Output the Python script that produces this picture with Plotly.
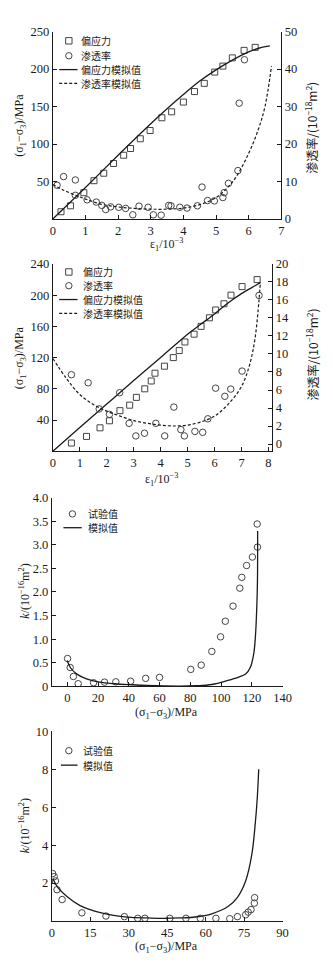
import plotly.graph_objects as go

# ---------------- Panel (a): strain vs deviatoric stress / permeability ----------------
a_strain_q = [0.25, 0.54, 0.95, 1.26, 1.56, 1.86, 2.17, 2.38, 2.68, 2.98, 3.34, 3.64, 4.0, 4.34, 4.64,
              4.96, 5.21, 5.5, 5.86, 6.2]
a_stress = [9.6, 17.5, 35, 51, 61, 74, 85, 94, 107, 118, 135, 143, 156, 170, 181, 196, 204, 215, 225, 229]

a_strain_k = [0.13, 0.33, 0.69, 0.69, 1.05, 1.33, 1.5, 1.62, 1.77, 2.02, 2.23, 2.45, 2.64, 2.92, 3.08, 3.32,
              3.55, 3.62, 3.89, 4.11, 4.43, 4.57, 4.74, 4.95, 5.21, 5.25, 5.38, 5.67, 5.71, 5.87]
a_perm = [9.0, 11.3, 10.4, 6.3, 5.1, 4.5, 3.6, 2.5, 3.2, 3.1, 2.8, 1.1, 3.4, 3.1, 1.1, 1.0,
          3.6, 3.5, 3.1, 2.9, 3.5, 8.5, 4.9, 4.8, 5.7, 7.0, 9.5, 12.9, 30.9, 42.5]

a_fit_q_x = [0, 1, 2, 3, 3.5, 4, 4.5, 5, 5.5, 6, 6.4, 6.65]
a_fit_q_y = [0, 42, 85, 127, 147, 166, 184, 199, 212, 223, 229, 231]

a_fit_k_x = [0, 0.3, 0.7, 1, 1.5, 2, 2.5, 3, 3.5, 4, 4.5, 5, 5.3, 5.6, 6, 6.3, 6.5, 6.7]
a_fit_k_y = [9.2, 7.8, 6.3, 5.3, 3.9, 3.2, 2.8, 2.6, 2.6, 2.9, 3.8, 5.7, 7.9, 11, 17.5, 24, 30, 40.8]

# ---------------- Panel (b) ----------------
b_strain_q = [0.69, 1.25, 1.75, 2.1, 2.49, 2.85, 3.1, 3.41, 3.65, 3.79, 4.14, 4.47, 4.69, 4.9, 5.24,
              5.5, 5.81, 6.04, 6.35, 6.61, 7.02, 7.58]
b_stress = [10.5, 19, 30, 39, 52, 59, 69, 80, 90, 100, 109, 120, 129, 140, 150, 160, 171, 181, 189,
            200, 211, 220]

b_strain_k = [0.69, 1.31, 2.48, 1.72, 2.1, 2.83, 3.08, 3.4, 3.82, 4.15, 4.49, 4.75, 4.88, 5.27, 5.56,
              5.75, 6.04, 6.38, 6.6, 7.02, 7.65]
b_perm = [7.7, 6.8, 5.7, 3.9, 3.3, 2.3, 0.9, 1.2, 2.3, 0.9, 4.1, 1.6, 0.9, 1.4, 1.3, 2.8, 6.2, 5.3,
          6.1, 8.1, 16.5]

b_fit_q_x = [0, 1, 2, 3, 4, 5, 5.5, 6, 6.5, 7, 7.5, 7.7]
b_fit_q_y = [0, 30.3, 60.5, 90.5, 120, 150, 163, 176, 190, 202, 212, 216]

b_fit_k_x = [0, 0.5, 1, 1.5, 2, 2.5, 3, 3.5, 4, 4.5, 5, 5.5, 6, 6.5, 7, 7.3, 7.5, 7.65, 7.7]
b_fit_k_y = [9.5, 7.3, 5.5, 4.4, 3.65, 3.1, 2.6, 2.3, 2.1, 2.0, 2.1, 2.45, 3.1, 4.4, 6.4, 8.8, 11.7,
             16, 18.0]

# ---------------- Panel (c): permeability vs deviatoric stress ----------------
c_stress = [0.2, 1.9, 4.0, 7.1, 17.1, 24.2, 31.6, 41.2, 51.0, 60.0, 80.3, 87.1, 94.0, 99.7, 102.8,
            107.8, 112.2, 113.5, 116.6, 120.4, 123.7, 123.5]
c_perm = [0.59, 0.40, 0.21, 0.056, 0.077, 0.09, 0.097, 0.11, 0.17, 0.19, 0.36, 0.45, 0.74, 1.05, 1.38,
          1.70, 2.08, 2.31, 2.56, 2.74, 2.95, 3.44]

c_fit_x = [0, 2, 6.3, 12.5, 21, 31, 42, 52, 63, 73, 84, 94, 104.5, 111, 116, 119, 121.2, 122.3,
           123.3, 123.7, 123.8]
c_fit_y = [0.55, 0.40, 0.26, 0.16, 0.09, 0.056, 0.035, 0.02, 0.01, 0.007, 0.014, 0.04, 0.125, 0.19,
           0.26, 0.40, 0.68, 1.03, 1.73, 2.28, 3.29]

# ---------------- Panel (d) ----------------
d_stress = [0.3, 0.9, 1.4, 2.0, 4.0, 11.7, 21.1, 28.3, 33.5, 36.3, 46.0, 52.3, 57.9, 64.0, 69.4, 72.4,
            75.6, 76.6, 77.7, 79.0, 79.1]
d_perm = [2.5, 2.34, 2.11, 1.65, 1.13, 0.43, 0.26, 0.23, 0.14, 0.14, 0.14, 0.14, 0.14, 0.14, 0.12,
          0.23, 0.33, 0.47, 0.6, 0.94, 1.23]

d_fit_x = [0.5, 2.3, 6, 11, 16, 21, 26, 31, 37.3, 43.6, 49.9, 56, 62.4, 68.7, 72.4, 75.6, 78, 79.3,
           80.2, 80.7]
d_fit_y = [2.2, 1.77, 1.28, 0.81, 0.55, 0.38, 0.26, 0.19, 0.16, 0.14, 0.16, 0.21, 0.38, 0.76, 1.25,
           2.11, 3.5, 5.06, 6.62, 8.0]

W, H = 333, 974
INK = "#1a1a1a"
MK = "#444444"
SERIF = "Liberation Serif, Times New Roman, serif"
CJK = "Noto Sans CJK SC, sans-serif"


def px_x(p):
    return p / W


def px_y(p):
    return 1 - p / H


sq = dict(symbol="square-open", size=6, color=MK, line=dict(width=1, color=MK))
ci = dict(symbol="circle-open", size=6.5, color=MK, line=dict(width=1, color=MK))
solid = dict(color=INK, width=1.3)
dashed = dict(color=INK, width=1.2, dash="3px,2px")

fig = go.Figure()


def add(x, y, xa, ya, name, marker=None, line=None):
    if marker is not None:
        fig.add_trace(go.Scatter(x=x, y=y, mode="markers", marker=marker, name=name,
                                 xaxis=xa, yaxis=ya, showlegend=False))
    else:
        fig.add_trace(go.Scatter(x=x, y=y, mode="lines", line=dict(shape="spline", **line),
                                 name=name, xaxis=xa, yaxis=ya, showlegend=False))


# panel (a)
add(a_strain_q, a_stress, "x", "y", "偏应力", marker=sq)
add(a_strain_k, a_perm, "x", "y2", "渗透率", marker=ci)
add(a_fit_q_x, a_fit_q_y, "x", "y", "偏应力模拟值", line=solid)
add(a_fit_k_x, a_fit_k_y, "x", "y2", "渗透率模拟值", line=dashed)
# panel (b)
add(b_strain_q, b_stress, "x2", "y3", "偏应力", marker=sq)
add(b_strain_k, b_perm, "x2", "y4", "渗透率", marker=ci)
add(b_fit_q_x, b_fit_q_y, "x2", "y3", "偏应力模拟值", line=solid)
add(b_fit_k_x, b_fit_k_y, "x2", "y4", "渗透率模拟值", line=dashed)
# panel (c)
add(c_stress, c_perm, "x3", "y5", "试验值", marker=ci)
add(c_fit_x, c_fit_y, "x3", "y5", "模拟值", line=solid)
# panel (d)
add(d_stress, d_perm, "x4", "y6", "试验值", marker=ci)
add(d_fit_x, d_fit_y, "x4", "y6", "模拟值", line=solid)

TICK_SIZE = 12.5
axis_style = dict(showline=True, linecolor=INK, linewidth=1, ticks="inside", ticklen=4,
                  tickcolor=INK, tickwidth=1, showgrid=False, zeroline=False,
                  tickfont=dict(family=SERIF, size=TICK_SIZE, color=INK))

fig.update_layout(
    width=W, height=H, margin=dict(l=0, r=0, t=0, b=0),
    paper_bgcolor="white", plot_bgcolor="white", showlegend=False,
    font=dict(family=CJK, color=INK),
    # panel (a)
    xaxis=dict(domain=[px_x(51.7), px_x(288.7)], range=[0, 7], tickvals=list(range(0, 8)),
               anchor="y", **axis_style),
    yaxis=dict(domain=[px_y(215), px_y(25)], range=[0, 250], tickvals=[50, 100, 150, 200, 250],
               anchor="x", **axis_style),
    yaxis2=dict(range=[0, 50], tickvals=[0, 10, 20, 30, 40, 50], overlaying="y", side="right",
                anchor="x", **axis_style),
    # panel (b)
    xaxis2=dict(domain=[px_x(51.7), px_x(279.3)], range=[0, 8.14], tickvals=list(range(0, 9)),
                anchor="y3", **axis_style),
    yaxis3=dict(domain=[px_y(450.7), px_y(260.7)], range=[0, 240],
                tickvals=[40, 80, 120, 160, 200, 240], anchor="x2", **axis_style),
    yaxis4=dict(range=[-0.8, 20], tickvals=list(range(0, 21, 2)), overlaying="y3", side="right",
                anchor="x2", **axis_style),
    # panel (c)
    xaxis3=dict(domain=[px_x(50.7), px_x(290)], range=[-10, 140], tickvals=list(range(0, 141, 20)),
                anchor="y5", **axis_style),
    yaxis5=dict(domain=[px_y(689.3), px_y(497.7)], range=[0, 4],
                tickvals=[0, 0.5, 1, 1.5, 2, 2.5, 3, 3.5, 4],
                ticktext=["0", "0.5", "1.0", "1.5", "2.0", "2.5", "3.0", "3.5", "4.0"],
                anchor="x3", **axis_style),
    # panel (d)
    xaxis4=dict(domain=[px_x(50.7), px_x(290)], range=[0, 90], tickvals=list(range(0, 91, 15)),
                anchor="y6", **axis_style),
    yaxis6=dict(domain=[px_y(927.3), px_y(735)], range=[0, 10], tickvals=[2, 4, 6, 8, 10],
                anchor="x4", **axis_style),
)

# ---------------- in-plot keys (drawn in pixel units on the page) ----------------
LEG_FONT = dict(family=CJK, size=10, color=INK)


def key_marker(kind, cx, cy, half=3.2):
    fig.add_shape(type="rect" if kind == "square" else "circle", xref="paper", yref="paper",
                  xsizemode="pixel", ysizemode="pixel", xanchor=px_x(cx), yanchor=px_y(cy),
                  x0=-half, x1=half, y0=-half, y1=half,
                  line=dict(color=MK, width=1), fillcolor="rgba(0,0,0,0)")


def key_line(x0, x1, cy, style):
    fig.add_shape(type="line", xref="paper", yref="paper", x0=px_x(x0), x1=px_x(x1),
                  y0=px_y(cy), y1=px_y(cy), line=style)


def key_text(text, tx, cy):
    fig.add_annotation(text=text, x=px_x(tx), y=px_y(cy), xref="paper", yref="paper",
                       showarrow=False, xanchor="left", yanchor="middle", font=LEG_FONT,
                       borderpad=0)


def key_block(rows, mx, lx0, lx1, tx):
    for kind, cy, text in rows:
        if kind in ("square", "circle"):
            key_marker(kind, mx, cy)
        else:
            key_line(lx0, lx1, cy, solid if kind == "solid" else dashed)
        key_text(text, tx, cy)


key_block([("square", 34.3, "偏应力"), ("circle", 49.5, "渗透率"),
           ("solid", 63.5, "偏应力模拟值"), ("dash", 77.5, "渗透率模拟值")],
          68.3, 58.3, 77.3, 80)
key_block([("square", 268.8, "偏应力"), ("circle", 282.8, "渗透率"),
           ("solid", 296.8, "偏应力模拟值"), ("dash", 310.8, "渗透率模拟值")],
          68.3, 58.3, 77.3, 81.7)
key_block([("circle", 514.3, "试验值"), ("solid", 528.3, "模拟值")], 72, 62.7, 81.7, 87.3)
key_block([("circle", 754.5, "试验值"), ("solid", 769.2, "模拟值")], 68.3, 60, 77.3, 81.7)

# ---------------- axis titles ----------------
stress_title = "(σ<sub>1</sub>−σ<sub>3</sub>)/MPa"
strain_title = "ε<sub>1</sub>/10<sup>−3</sup>"
perm18_title = "渗透率/(10<sup>−18</sup>m<sup>2</sup>)"
perm16_title = "<i>k</i>/(10<sup>−16</sup>m<sup>2</sup>)"

titles = [
    (strain_title, 170, 241, 0),
    (stress_title, 18, 120, -90),
    (perm18_title, 320, 122, -90),
    (strain_title, 165, 479, 0),
    (stress_title, 18, 356, -90),
    (perm18_title, 320, 352, -90),
    (stress_title, 170, 716.5, 0),
    (perm16_title, 22, 593, -90),
    (stress_title, 170, 954, 0),
    (perm16_title, 22, 831, -90),
]
for text, xp, yp, ang in titles:
    fig.add_annotation(text=text, x=px_x(xp), y=px_y(yp), xref="paper", yref="paper",
                       showarrow=False, textangle=ang, xanchor="center", yanchor="middle",
                       font=dict(family=CJK if "渗" in text else SERIF, size=12, color=INK))

fig.write_html("out.html")
